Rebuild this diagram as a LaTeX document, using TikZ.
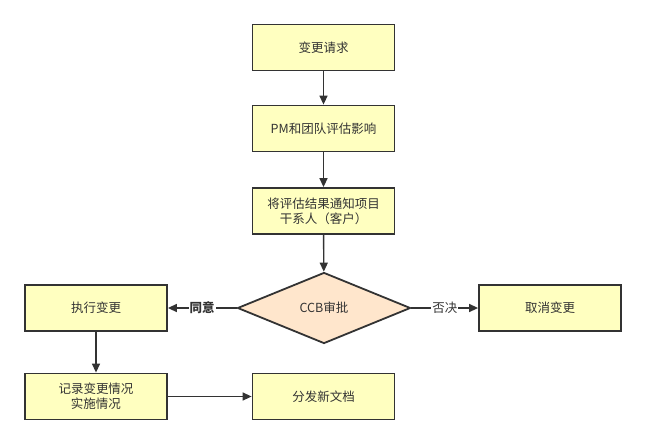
\documentclass[tikz,border=0pt]{standalone}
\usepackage{fontspec}
\setmainfont{Noto Sans CJK SC}
\usetikzlibrary{shapes.geometric,arrows.meta}
\definecolor{boxfill}{HTML}{FFFFC0}
\definecolor{dfill}{HTML}{FFE6CC}
\definecolor{edge}{HTML}{333333}
\begin{document}
\begin{tikzpicture}[x=1pt,y=-1pt,
  every node/.style={font=\fontsize{12.5}{15}\selectfont, text=edge},
  stepbox/.style={draw=edge, fill=boxfill, line width=1.8pt, minimum width=142pt, minimum height=46pt, inner sep=0pt, align=center},
  decide/.style={diamond, draw=edge, fill=dfill, line width=1.8pt, minimum width=173pt, minimum height=71pt, inner sep=0pt, aspect=2.44},
  conn/.style={draw=edge, line width=1.4pt, -{Triangle[length=9pt,width=8pt]}},
  lbl/.style={fill=white, inner sep=1pt}]
\useasboundingbox (0,0) rectangle (646,445);
\node[stepbox] (req) at (323.5,47.5) {变更请求};
\node[stepbox] (eval) at (323.5,128.5) {PM和团队评估影响};
\node[stepbox] (notify) at (323.5,211) {将评估结果通知项目\\干系人（客户）};
\node[decide] (ccb) at (324,308) {CCB审批};
\node[stepbox] (exec) at (96,308) {执行变更};
\node[stepbox] (rec) at (96,396.5) {记录变更情况\\实施情况};
\node[stepbox] (dist) at (323.5,396.5) {分发新文档};
\node[stepbox] (cancel) at (550,308) {取消变更};
\draw[conn] (req) -- (eval);
\draw[conn] (eval) -- (notify);
\draw[conn] (notify) -- (ccb);
\draw[conn] (ccb) -- node[lbl,font=\fontsize{12.5}{15}\selectfont\bfseries]{同意} (exec);
\draw[conn] (ccb) -- node[lbl]{否决} (cancel);
\draw[conn] (exec) -- (rec);
\draw[conn] (rec) -- (dist);
\end{tikzpicture}
\end{document}
